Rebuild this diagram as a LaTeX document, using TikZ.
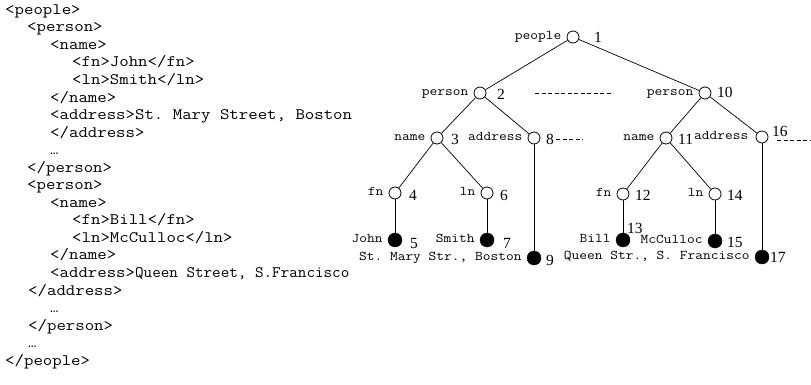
\documentclass[tikz,border=0pt]{standalone}
\usepackage{fontspec}
\setmainfont{Liberation Serif}
\newfontfamily\dotsfont{Liberation Mono}
\frenchspacing
% typewriter faces: Latin Modern Mono, widened to Courier proportions
\newcommand\codefont{\ttfamily\fontsize{16}{18}\selectfont\frenchspacing}
\newcommand\tagfont{\ttfamily\fontsize{13.3}{15}\selectfont\frenchspacing}
\newcommand\numfont{\fontsize{15.5}{17}\selectfont}
\newcommand\wide[1]{\scalebox{1.13}[1]{#1}}
\newcommand\cwide[1]{\scalebox{1.145}[1]{#1}}
\newcommand\tight[1]{\scalebox{1.04}[1]{#1}}
\newcommand\elide{{\dotsfont\fontsize{14}{16}\selectfont …}}
\begin{document}
\begin{tikzpicture}[x=1pt,y=-1pt,
  codeline/.style={anchor=mid west, inner sep=0pt, font=\codefont},
  tag/.style={font=\tagfont, inner sep=0pt, anchor=mid east, xshift=-5pt},
  num/.style={anchor=base west, inner sep=0pt, font=\numfont},
  opennode/.style={circle, draw, line width=0.8pt, minimum size=12pt, inner sep=0pt},
  leafnode/.style={circle, draw, fill=black, minimum size=14pt, inner sep=0pt},
  edge/.style={line width=0.7pt},
  gap/.style={line width=0.7pt, dash pattern=on 4pt off 2.5pt}]
\useasboundingbox (0,0) rectangle (811,385);

% ---- XML source listing ----
\def\lh{17.55}
\node[codeline] (c0)  at (5, 12+0*\lh)  {\cwide{<people>}};
\node[codeline] (c1)  at (27,12+1*\lh)  {\cwide{<person>}};
\node[codeline] (c2)  at (50,12+2*\lh)  {\cwide{<name>}};
\node[codeline] (c3)  at (72,12+3*\lh)  {\cwide{<fn>John</fn>}};
\node[codeline] (c4)  at (72,12+4*\lh)  {\cwide{<ln>Smith</ln>}};
\node[codeline] (c5)  at (50,12+5*\lh)  {\cwide{</name>}};
\node[codeline] (c6)  at (50,12+6*\lh)  {\cwide{<address>St. Mary Street, Boston}};
\node[codeline] (c7)  at (50,12+7*\lh)  {\cwide{</address>}};
\node[codeline] (c8)  at (50,12+8*\lh)  {\elide};
\node[codeline] (c9)  at (27,12+9*\lh)  {\cwide{</person>}};
\node[codeline] (c10) at (27,12+10*\lh) {\cwide{<person>}};
\node[codeline] (c11) at (50,12+11*\lh) {\cwide{<name>}};
\node[codeline] (c12) at (72,12+12*\lh) {\cwide{<fn>Bill</fn>}};
\node[codeline] (c13) at (72,12+13*\lh) {\cwide{<ln>McCulloc</ln>}};
\node[codeline] (c14) at (50,12+14*\lh) {\cwide{</name>}};
\node[codeline] (c15) at (50,12+15*\lh) {\cwide{<address>}\tight{Queen Street, S.Francisco}};
\node[codeline] (c16) at (28,12+16*\lh) {\cwide{</address>}};
\node[codeline] (c17) at (50,12+17*\lh) {\elide};
\node[codeline] (c18) at (28,12+18*\lh) {\cwide{</person>}};
\node[codeline] (c19) at (28,12+19*\lh) {\elide};
\node[codeline] (c20) at (5, 12+20*\lh) {\cwide{</people>}};

% ---- tree nodes ----
\node[opennode, label={[tag]left:\wide{people}}]  (n1)  at (573,37)  {};
\node[opennode, label={[tag]left:\wide{person}}]  (n2)  at (480,93)  {};
\node[opennode, label={[tag]left:\wide{name}}]    (n3)  at (437,138) {};
\node[opennode, label={[tag]left:\wide{fn}}]      (n4)  at (395,193) {};
\node[leafnode, label={[tag]left:\wide{John}}]    (n5)  at (395,240) {};
\node[opennode, label={[tag]left:\wide{ln}}]      (n6)  at (487,193) {};
\node[leafnode, label={[tag]left:\wide{Smith}}]   (n7)  at (487,240) {};
\node[opennode, label={[tag]left:\wide{address}}] (n8)  at (534,138) {};
\node[leafnode, label={[tag]left:\wide{St. Mary Str., Boston}}] (n9) at (534,258) {};
\node[opennode, label={[tag]left:\wide{person}}]  (n10) at (705,93)  {};
\node[opennode, label={[tag]left:\wide{name}}]    (n11) at (666,138) {};
\node[opennode, label={[tag]left:\wide{fn}}]      (n12) at (623,194) {};
\node[leafnode, label={[tag]left:\wide{Bill}}]    (n13) at (623,240) {};
\node[opennode, label={[tag]left:\wide{ln}}]      (n14) at (715,194) {};
\node[leafnode, label={[tag]left:\wide{McCulloc}}] (n15) at (715,241) {};
\node[opennode, label={[tag,xshift=-2pt]left:\wide{address}}] (n16) at (762,137) {};
\node[leafnode, label={[tag]left:\wide{Queen Str., S. Francisco}}] (n17) at (762,257) {};

% ---- node numbers ----
\node[num] (k1)  at (594,43)  {1};
\node[num] (k2)  at (497,100) {2};
\node[num] (k3)  at (451,145) {3};
\node[num] (k4)  at (409,200) {4};
\node[num] (k5)  at (410,248) {5};
\node[num] (k6)  at (500,200) {6};
\node[num] (k7)  at (503,248) {7};
\node[num] (k8)  at (546,145) {8};
\node[num] (k9)  at (546,265) {9};
\node[num] (k10) at (717,98)  {10};
\node[num] (k11) at (678,144) {11};
\node[num] (k12) at (635,200) {12};
\node[num] (k13) at (627,233) {13};
\node[num] (k14) at (727,200) {14};
\node[num] (k15) at (727,247) {15};
\node[num] (k16) at (772,137) {16};
\node[num] (k17) at (770,262) {17};

% ---- edges ----
\draw[edge] (n1) -- (n2);
\draw[edge] (n1) -- (n10);
\draw[edge] (n2) -- (n3);
\draw[edge] (n2) -- (n8);
\draw[edge] (n3) -- (n4);
\draw[edge] (n3) -- (n6);
\draw[edge] (n4) -- (n5);
\draw[edge] (n6) -- (n7);
\draw[edge] (n8) -- (n9);
\draw[edge] (n10) -- (n11);
\draw[edge] (n10) -- (n16);
\draw[edge] (n11) -- (n12);
\draw[edge] (n11) -- (n14);
\draw[edge] (n12) -- (n13);
\draw[edge] (n14) -- (n15);
\draw[edge] (n16) -- (n17);

% ---- elided siblings ----
\coordinate (g1a) at (535,93);
\coordinate (g1b) at (613,93);
\coordinate (g2a) at (556,139);
\coordinate (g2b) at (583,139);
\coordinate (g3a) at (777,140);
\coordinate (g3b) at (811,140);
\draw[gap] (g1a) -- (g1b);
\draw[gap] (g2a) -- (g2b);
\draw[gap] (g3a) -- (g3b);
\end{tikzpicture}
\end{document}
